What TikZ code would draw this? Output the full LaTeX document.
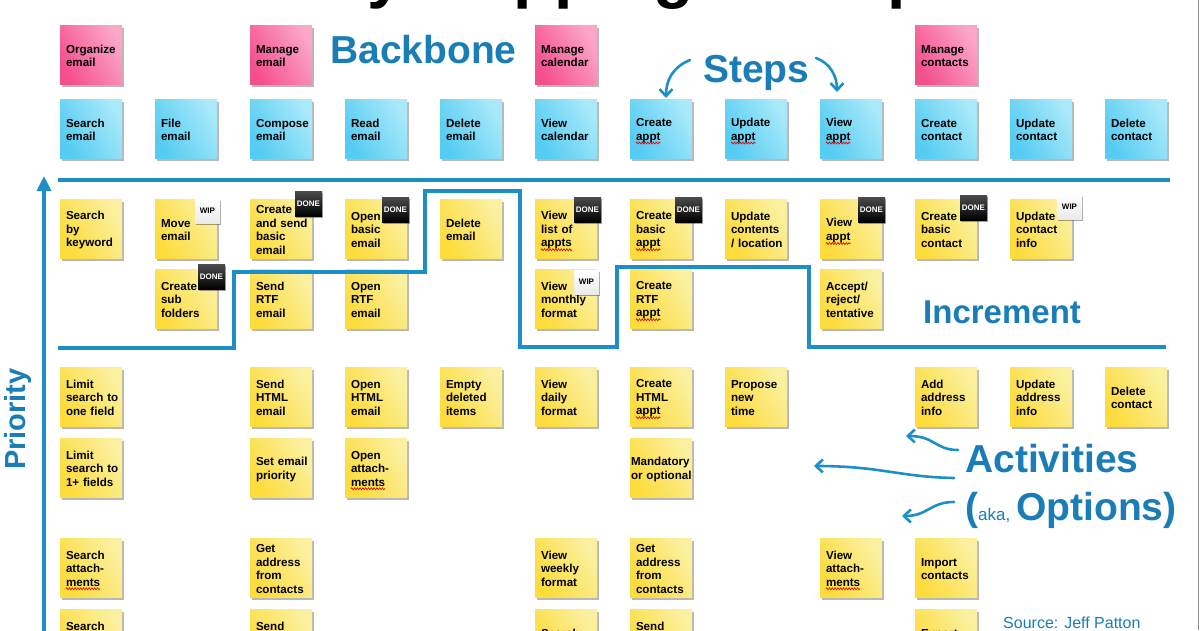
\documentclass[tikz,border=0pt]{standalone}
\usepackage{fontspec}
\setmainfont{Liberation Sans}
\usetikzlibrary{shadows,calc,arrows.meta,decorations.pathmorphing}
\definecolor{lblue}{HTML}{1A7DB8}
\definecolor{lineblue}{HTML}{1C90C6}
\definecolor{yA}{HTML}{FDDC3C}
\definecolor{yB}{HTML}{FBF0A0}
\definecolor{bA}{HTML}{55CCF2}
\definecolor{bB}{HTML}{A9E9FA}
\definecolor{pA}{HTML}{F5508E}
\definecolor{pB}{HTML}{FCA6C8}
\newcommand\notefont{\fontsize{11.6pt}{13.5pt}\selectfont\bfseries\hyphenpenalty=10000\relax}
\newcommand\tagfont{\fontsize{8pt}{8pt}\selectfont\bfseries}
\newcommand\mknote[5]{\node[#4] (#1) at ({91+95*#2},{#3+29.5}) {#5};}
\newcommand\squig[3]{\draw[squigline] ($(#1.center)+(-25,#2)$) -- ++(#3,0);}
\tikzset{
  note/.style={inner xsep=6pt, inner ysep=0pt, text width=50pt, align=left,
    minimum width=62pt, minimum height=59pt, font=\notefont,
    drop shadow={shadow xshift=1.5pt, shadow yshift=-3pt, opacity=0.28, fill=black},
    execute at begin node={\rule{0pt}{12pt}},
    execute at end node={\rule[-1.5pt]{0pt}{1.5pt}}},
  ynote/.style={note, left color=yA, right color=yB, shading angle=120},
  bnote/.style={note, left color=bA, right color=bB, shading angle=120},
  pnote/.style={note, left color=pA, right color=pB, shading angle=120},
  tagbox/.style={anchor=north west, inner sep=0pt, font=\tagfont,
    minimum width=27pt, minimum height=25pt,
    drop shadow={shadow xshift=1pt, shadow yshift=-2pt, opacity=0.35, fill=black}},
  donetag/.style={tagbox, top color=black!70, bottom color=black, text=white},
  wiptag/.style={tagbox, top color=white, bottom color=black!8, text=black, minimum width=25pt, minimum height=24pt},
  biglab/.style={font=\fontsize{39pt}{40pt}\selectfont\bfseries, text=lblue, inner sep=0pt, anchor=base west},
  blueline/.style={draw=lineblue, line width=4pt},
  incline/.style={draw=lineblue, line width=3.6pt},
  curvearrow/.style={draw=lineblue, line width=2.6pt, line cap=round,
    -{Straight Barb[length=7pt,width=13pt]}},
  squigline/.style={draw=red!85!black, line width=0.6pt,
    decorate, decoration={zigzag, segment length=2.8pt, amplitude=1pt}}
}
\begin{document}
\begin{tikzpicture}[x=1pt,y=-1pt]
\useasboundingbox (0,0) rectangle (1200,630);
\clip (0,0) rectangle (1200,630);
\fill[white] (0,0) rectangle (1200,630);

% title (mostly cut off above the frame)
\node[font=\fontsize{66pt}{70pt}\selectfont\bfseries, anchor=base west, inner sep=0pt] (title) at (235,-4.5) {Story Mapping Example};

% right frame edge
\draw[black!45, line width=1pt] (1198.6,0) -- (1198.6,630);

% backbone activities (pink)
\mknote{p0}{0}{25}{pnote}{Organize\\email}
\mknote{p2}{2}{25}{pnote}{Manage\\email}
\mknote{p5}{5}{25}{pnote}{Manage\\calendar}
\mknote{p9}{9}{25}{pnote}{Manage\\contacts}

% steps (blue)
\mknote{b0}{0}{99}{bnote}{Search\\email}
\mknote{b1}{1}{99}{bnote}{File\\email}
\mknote{b2}{2}{99}{bnote}{Compose\\email}
\mknote{b3}{3}{99}{bnote}{Read\\email}
\mknote{b4}{4}{99}{bnote}{Delete\\email}
\mknote{b5}{5}{99}{bnote}{View\\calendar}
\mknote{b6}{6}{99}{bnote}{Create\\appt}
\mknote{b7}{7}{99}{bnote}{Update\\appt}
\mknote{b8}{8}{99}{bnote}{View\\appt}
\mknote{b9}{9}{99}{bnote}{Create\\contact}
\mknote{b10}{10}{99}{bnote}{Update\\contact}
\mknote{b11}{11}{99}{bnote}{Delete\\contact}

% row 1
\mknote{ya0}{0}{199}{ynote}{Search\\by\\keyword}
\mknote{ya1}{1}{199}{ynote}{Move\\email}
\mknote{ya2}{2}{199}{ynote}{Create\\and~send\\basic\\email}
\mknote{ya3}{3}{199}{ynote}{Open\\basic\\email}
\mknote{ya4}{4}{199}{ynote}{Delete\\email}
\mknote{ya5}{5}{199}{ynote}{View\\list~of\\appts}
\mknote{ya6}{6}{199}{ynote}{Create\\basic\\appt}
\mknote{ya7}{7}{199}{ynote}{Update\\contents\\/~location}
\mknote{ya8}{8}{199}{ynote}{View\\appt}
\mknote{ya9}{9}{199}{ynote}{Create\\basic\\contact}
\mknote{ya10}{10}{199}{ynote}{Update\\contact\\info}

% row 2
\mknote{yb1}{1}{269}{ynote}{Create\\sub\\folders}
\mknote{yb2}{2}{269}{ynote}{Send\\RTF\\email}
\mknote{yb3}{3}{269}{ynote}{Open\\RTF\\email}
\mknote{yb5}{5}{269}{ynote}{View\\monthly\\format}
\mknote{yb6}{6}{269}{ynote}{Create\\RTF\\appt}
\mknote{yb8}{8}{269}{ynote}{Accept/\\reject/\\tentative}

% row 3
\mknote{yc0}{0}{367}{ynote}{Limit\\search~to\\one~field}
\mknote{yc2}{2}{367}{ynote}{Send\\HTML\\email}
\mknote{yc3}{3}{367}{ynote}{Open\\HTML\\email}
\mknote{yc4}{4}{367}{ynote}{Empty\\deleted\\items}
\mknote{yc5}{5}{367}{ynote}{View\\daily\\format}
\mknote{yc6}{6}{367}{ynote}{Create\\HTML\\appt}
\mknote{yc7}{7}{367}{ynote}{Propose\\new\\time}
\mknote{yc9}{9}{367}{ynote}{Add\\address\\info}
\mknote{yc10}{10}{367}{ynote}{Update\\address\\info}
\mknote{yc11}{11}{367}{ynote}{Delete\\contact}

% row 4
\mknote{yd0}{0}{438}{ynote}{Limit\\search~to\\1+~fields}
\mknote{yd2}{2}{438}{ynote}{Set~email\\priority}
\mknote{yd3}{3}{438}{ynote}{Open\\attach-\\ments}
\mknote{yd6}{6}{438}{ynote, text width=60pt, inner xsep=1pt}{Mandatory\\or~optional}

% row 5
\mknote{ye0}{0}{538}{ynote}{Search\\attach-\\ments}
\mknote{ye2}{2}{538}{ynote}{Get\\address\\from\\contacts}
\mknote{ye5}{5}{538}{ynote}{View\\weekly\\format}
\mknote{ye6}{6}{538}{ynote}{Get\\address\\from\\contacts}
\mknote{ye8}{8}{538}{ynote}{View\\attach-\\ments}
\mknote{ye9}{9}{538}{ynote}{Import\\contacts}

% row 6 (cut off by the frame)
\mknote{yf0}{0}{609}{ynote}{Search\\by\\date}
\mknote{yf2}{2}{609}{ynote}{Send\\attach-\\ments}
\mknote{yf5}{5}{609}{ynote}{Search\\calendar}
\mknote{yf6}{6}{609}{ynote}{Send\\appt\\invite}
\mknote{yf9}{9}{609}{ynote}{Export\\contacts}

% spelling squiggles
\squig{b6}{14.5}{24.5}
\squig{b7}{14.5}{24.5}
\squig{b8}{14.5}{24.5}
\squig{ya5}{21.25}{31}
\squig{ya6}{21.25}{24.5}
\squig{ya8}{15}{24.5}
\squig{yb6}{21.25}{24.5}
\squig{yc6}{21.25}{24.5}
\squig{yd3}{21.25}{34}
\squig{ye0}{21.25}{34}
\squig{ye8}{21.25}{34}

% status tags
\node[wiptag]  (t1) at ($(ya1.north west)+(40,0)$) {WIP};
\node[donetag] (t2) at ($(ya2.north west)+(45,-8)$) {DONE};
\node[donetag] (t3) at ($(ya3.north west)+(37,-2)$) {DONE};
\node[donetag] (t4) at ($(ya5.north west)+(39,-2)$) {DONE};
\node[donetag] (t5) at ($(ya6.north west)+(45,-2)$) {DONE};
\node[donetag] (t6) at ($(ya8.north west)+(38,-2)$) {DONE};
\node[donetag] (t7) at ($(ya9.north west)+(45,-4)$) {DONE};
\node[wiptag]  (t8) at ($(ya10.north west)+(47,-4)$) {WIP};
\node[donetag] (t9) at ($(yb1.north west)+(43,-5)$) {DONE};
\node[wiptag]  (t10) at ($(yb5.north west)+(39,1)$) {WIP};

% lines
\draw[blueline] (58,179.5) -- (1170,179.5);
\draw[incline] (58,348) -- (234,348) -- (234,272) -- (425,272) -- (425,191) -- (520,191)
  -- (520,347) -- (617,347) -- (617,267) -- (809,267) -- (809,347) -- (1166,347);

% priority axis
\coordinate (axbot) at (44,640);
\coordinate (axtop) at (44,176);
\draw[draw=lineblue, line width=4pt, -{Triangle[length=15pt,width=14pt]}] (axbot) -- (axtop);
\node[font=\fontsize{29pt}{30pt}\selectfont\bfseries, text=lblue, rotate=90, inner sep=0pt] (prio) at (18,419) {Priority};

% labels
\node[biglab] (backbone) at (330,63) {Backbone};
\node[biglab] (steps) at (703,82) {Steps};
\node[biglab, font=\fontsize{33pt}{34pt}\selectfont\bfseries] (increment) at (923,323) {Increment};
\node[biglab] (activities) at (965,472) {Activities};
\node[biglab] (options) at (965,520) {(\fontsize{17pt}{18pt}\selectfont\mdseries aka,\hspace{6pt}\fontsize{39pt}{40pt}\selectfont\bfseries Options)};
\node[font=\fontsize{16pt}{17pt}\selectfont, text=lblue, anchor=base west, inner sep=0pt] (source) at (1003,628) {Source: Jeff Patton};

% steps arrows
\coordinate (sa1) at (690,60);
\coordinate (sa1e) at (666,98);
\coordinate (sa2) at (816,58);
\coordinate (sa2e) at (837,92);
\draw[curvearrow] (sa1) .. controls (673,67) and (666,80) .. (sa1e);
\draw[curvearrow] (sa2) .. controls (830,63) and (837,76) .. (sa2e);

% activities arrows
\coordinate (aa1) at (958,450);
\coordinate (aa1e) at (906,436);
\coordinate (aa2) at (954,478);
\coordinate (aa2e) at (814,466);
\coordinate (aa3) at (954,502);
\coordinate (aa3e) at (902,516);
\draw[curvearrow] (aa1) .. controls (935,450) and (935,436) .. (aa1e);
\draw[curvearrow] (aa2) .. controls (900,477) and (880,466) .. (aa2e);
\draw[curvearrow] (aa3) .. controls (930,502) and (928,516) .. (aa3e);
\end{tikzpicture}
\end{document}
